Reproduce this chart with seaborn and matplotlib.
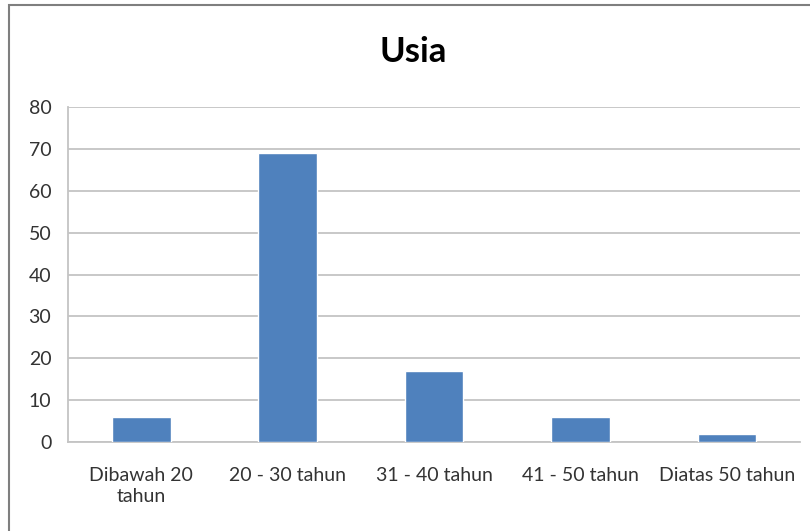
import matplotlib
matplotlib.use('Agg')
import pandas as pd
import matplotlib.pyplot as plt
import seaborn as sns
from matplotlib.patches import Rectangle

# data
kategori = ['Dibawah 20\ntahun', '20 - 30 tahun', '31 - 40 tahun', '41 - 50 tahun', 'Diatas 50 tahun']
jumlah = [6, 69, 17, 6, 2]
y_ticks = [0, 10, 20, 30, 40, 50, 60, 70, 80]

data = pd.DataFrame({'kategori': kategori, 'jumlah': jumlah})

sns.set_style('white')
plt.rcParams['font.family'] = ['Lato', 'DejaVu Sans']

fig = plt.figure(figsize=(8.1, 5.31), dpi=100)
ax = fig.add_axes([0.084, 0.1676, 0.904, 0.6309])

sns.barplot(x='kategori', y='jumlah', data=data, color='#4f81bd', width=0.4,
            saturation=1, ax=ax, zorder=3)

ax.set_ylim(0, 80)
ax.set_yticks(y_ticks)
ax.set_xlim(-0.5, len(kategori) - 0.5)
ax.yaxis.grid(True, color='#c4c4c4', linewidth=1.3, zorder=0)
ax.set_axisbelow(True)
ax.set_xlabel('')
ax.set_ylabel('')

for side in ['top', 'right']:
    ax.spines[side].set_visible(False)
for side in ['left', 'bottom']:
    ax.spines[side].set_color('#c4c4c4')
    ax.spines[side].set_linewidth(1.3)

ax.tick_params(axis='both', length=0, labelsize=14, colors='#333333')
ax.tick_params(axis='y', pad=12)
ax.tick_params(axis='x', pad=18)
for lbl in ax.get_xticklabels():
    lbl.set_linespacing(1.25)

fig.text(0.51, 0.902, 'Usia', ha='center', va='center', fontsize=25,
         fontweight='bold', color='black')

# outer chart border
fig.patches.append(Rectangle((9 / 810, -0.05), 1.1, 1 - 5 / 531 + 0.05,
                             transform=fig.transFigure, fill=False,
                             edgecolor='#7f7f7f', linewidth=1.5))

plt.savefig('out.png', dpi=100)
